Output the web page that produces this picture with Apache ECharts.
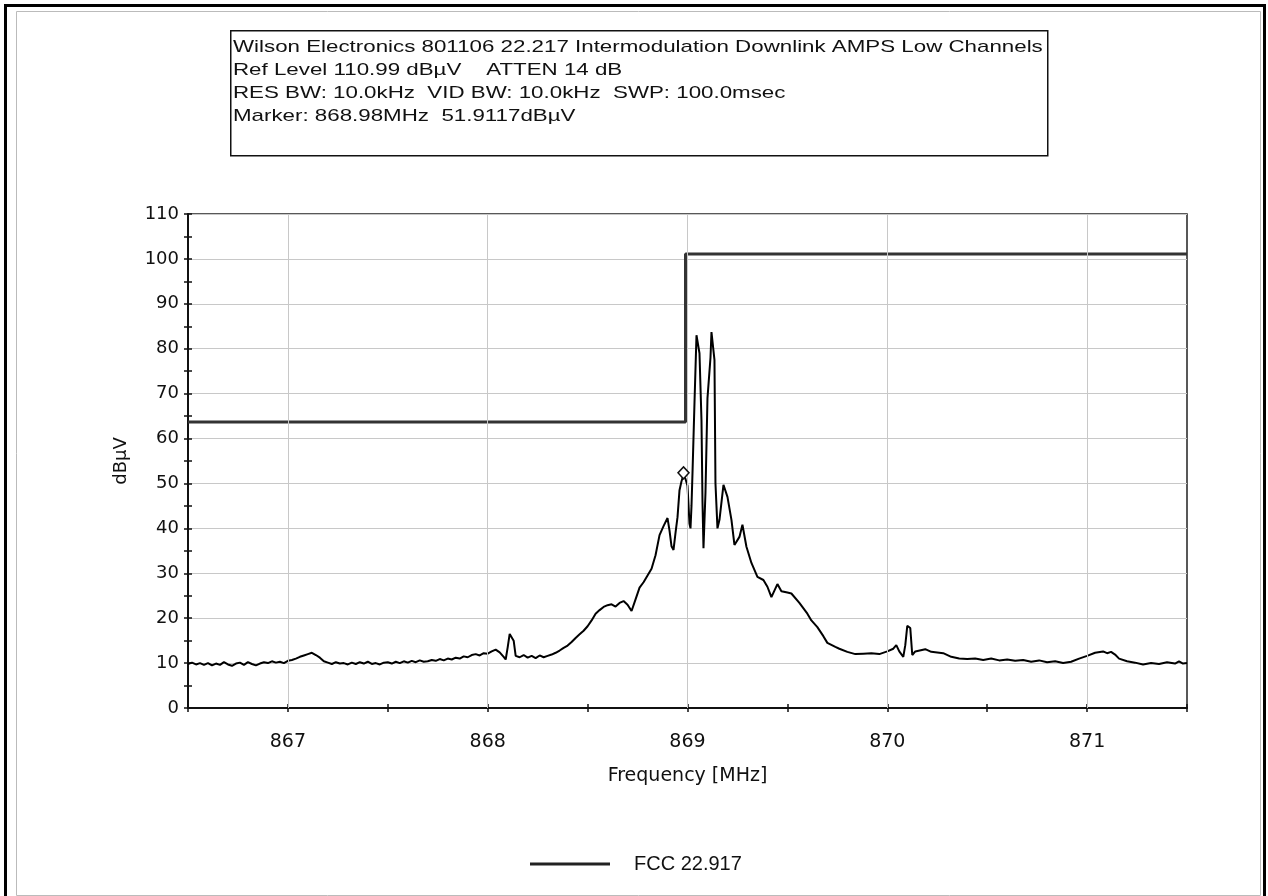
<!DOCTYPE html>
<html>
<head>
<meta charset="utf-8">
<script src="https://cdn.jsdelivr.net/npm/echarts@6/dist/echarts.min.js"></script>
<style>
html,body{margin:0;padding:0;background:#fff;}
#chart{width:1268px;height:896px;}
</style>
</head>
<body>
<div id="chart"></div>
<script>
// ---- Data ----
var infoLines = [
  'Wilson Electronics 801106 22.217 Intermodulation Downlink AMPS Low Channels',
  'Ref Level 110.99 dB\u00B5V    ATTEN 14 dB',
  'RES BW: 10.0kHz  VID BW: 10.0kHz  SWP: 100.0msec',
  'Marker: 868.98MHz  51.9117dB\u00B5V'
];
var xAxisTitle = 'Frequency [MHz]';
var yAxisTitle = 'dB\u00B5V';
var limitName = 'FCC 22.917';
var xMin = 866.5, xMax = 871.5, xStep = 0.5;
var yMin = 0, yMax = 110, yStep = 10;
var xGridTicks = [867, 868, 869, 870, 871];

var limitFreq  = [866.5, 868.99, 868.99, 871.5];
var limitLevel = [63.7, 63.7, 101.1, 101.1];

var markerFreq = 868.98;
var markerLevel = 51.9117;

var traceData = [
 [866.50,9.8],[866.52,10.1],[866.54,9.7],[866.56,10.0],[866.58,9.6],[866.60,10.0],[866.62,9.5],[866.64,9.9],
 [866.66,9.6],[866.68,10.2],[866.70,9.7],[866.72,9.4],[866.74,9.9],[866.76,10.1],[866.78,9.6],[866.80,10.2],
 [866.82,9.8],[866.84,9.5],[866.86,9.9],[866.88,10.2],[866.90,10.0],[866.92,10.4],[866.94,10.1],[866.96,10.3],
 [866.98,10.0],[867.00,10.5],[867.02,10.7],[867.04,11.0],[867.06,11.4],[867.08,11.7],[867.10,12.0],[867.12,12.3],
 [867.14,11.8],[867.16,11.2],[867.18,10.4],[867.20,10.1],[867.22,9.8],[867.24,10.2],[867.26,9.9],[867.28,10.0],
 [867.30,9.7],[867.32,10.1],[867.34,9.8],[867.36,10.2],[867.38,9.9],[867.40,10.3],[867.42,9.8],[867.44,10.0],
 [867.46,9.7],[867.48,10.1],[867.50,10.2],[867.52,9.9],[867.54,10.3],[867.56,10.0],[867.58,10.4],[867.60,10.1],
 [867.62,10.5],[867.64,10.2],[867.66,10.6],[867.68,10.3],[867.70,10.4],[867.72,10.7],[867.74,10.5],[867.76,10.9],
 [867.78,10.6],[867.80,11.0],[867.82,10.8],[867.84,11.2],[867.86,11.0],[867.88,11.5],[867.90,11.3],[867.92,11.8],
 [867.94,12.0],[867.96,11.7],[867.98,12.2],[868.00,12.1],[868.02,12.6],[868.04,13.0],[868.06,12.4],[868.08,11.4],
 [868.09,10.8],[868.10,13.5],[868.11,16.5],[868.12,16.8],[868.13,15.0],[868.14,11.6],[868.16,11.3],[868.18,11.8],
 [868.20,11.2],[868.22,11.6],[868.24,11.1],[868.26,11.7],[868.28,11.3],[868.30,11.6],[868.32,11.9],[868.34,12.3],
 [868.36,12.8],[868.38,13.4],[868.40,13.9],[868.42,14.7],[868.44,15.6],[868.46,16.4],[868.48,17.2],[868.50,18.2],
 [868.52,19.5],[868.54,21.0],[868.56,21.8],[868.58,22.5],[868.60,22.9],[868.62,23.1],[868.64,22.6],[868.66,23.4],
 [868.68,23.8],[868.70,23.0],[868.72,21.6],[868.74,24.2],[868.76,26.8],[868.78,28.0],[868.80,29.5],[868.82,31.0],
 [868.84,34.0],[868.86,38.5],[868.88,40.5],[868.90,42.3],[868.91,39.5],[868.92,36.0],[868.93,35.2],[868.94,39.0],
 [868.95,42.5],[868.96,48.5],[868.97,50.5],[868.98,51.9],[868.99,51.0],[869.00,49.5],[869.01,41.0],[869.015,40.0],
 [869.02,45.0],[869.025,52.3],[869.035,68.0],[869.045,83.0],[869.06,79.0],[869.07,64.0],[869.075,46.0],[869.08,35.6],
 [869.09,48.0],[869.10,69.0],[869.115,78.0],[869.12,83.7],[869.135,77.5],[869.14,50.0],[869.15,40.0],[869.16,41.9],
 [869.18,49.7],[869.20,47.0],[869.22,41.9],[869.235,36.3],[869.26,38.1],[869.275,40.8],[869.295,35.9],[869.32,32.3],
 [869.35,29.2],[869.38,28.5],[869.40,27.0],[869.42,24.7],[869.45,27.6],[869.47,26.0],[869.50,25.7],[869.52,25.5],
 [869.56,23.4],[869.60,21.0],[869.62,19.5],[869.65,18.0],[869.68,16.0],[869.70,14.5],[869.74,13.6],[869.76,13.2],
 [869.80,12.5],[869.84,12.0],[869.88,12.1],[869.92,12.2],[869.96,12.0],[870.00,12.6],[870.03,13.2],[870.045,14.0],
 [870.06,12.6],[870.08,11.4],[870.09,14.0],[870.10,18.3],[870.115,17.8],[870.125,11.8],[870.14,12.6],[870.19,13.1],
 [870.22,12.5],[870.28,12.2],[870.32,11.4],[870.36,11.0],[870.40,10.9],[870.44,11.0],[870.48,10.7],[870.52,11.0],
 [870.56,10.6],[870.60,10.8],[870.64,10.5],[870.68,10.7],[870.72,10.3],[870.76,10.6],[870.80,10.2],[870.84,10.4],
 [870.88,10.0],[870.92,10.3],[870.96,11.0],[871.00,11.6],[871.04,12.3],[871.08,12.6],[871.10,12.2],[871.12,12.5],
 [871.14,11.9],[871.16,11.0],[871.20,10.4],[871.24,10.1],[871.28,9.7],[871.32,10.0],[871.36,9.8],[871.40,10.2],
 [871.44,9.9],[871.46,10.4],[871.48,9.9],[871.50,10.0]
];

// ---- Chart ----
var FONT = 'DejaVu Sans';
var chart = echarts.init(document.getElementById('chart'), null, {renderer: 'canvas'});

var limitData = limitFreq.map(function (f, i) { return [f, limitLevel[i]]; });

var infoText = infoLines.map(function (t, i) {
  return {
    type: 'text', x: 233, y: 47 + i * 23, scaleX: 1.313, z: 10,
    style: { text: t, font: '17px "Liberation Sans"', fill: '#111', textVerticalAlign: 'middle', verticalAlign: 'middle' }
  };
});

var option = {
  backgroundColor: '#fff',
  animation: false,
  grid: { left: 188, top: 214, right: 81, bottom: 188, show: true, borderColor: '#222', borderWidth: 1.5, backgroundColor: 'transparent' },
  legend: {
    data: [{ name: limitName, icon: 'rect' }],
    left: 525, top: 849,
    itemWidth: 80, itemHeight: 3,
    textStyle: { fontFamily: 'Liberation Sans', fontSize: 20, color: '#111', padding: [0, 0, 0, 19] }
  },
  xAxis: [{
    type: 'value', min: xMin, max: xMax, interval: xStep, position: 'bottom',
    name: xAxisTitle, nameLocation: 'middle', nameGap: 59,
    nameTextStyle: { fontFamily: FONT, fontSize: 19, color: '#111' },
    axisLine: { onZero: false, lineStyle: { color: '#111', width: 2 } },
    axisTick: { show: true, length: 4, lineStyle: { color: '#111', width: 1.5 } },
    axisLabel: { margin: 25, fontFamily: FONT, fontSize: 19, color: '#111',
      formatter: function (v) { return Math.abs(v - Math.round(v)) < 1e-6 ? String(Math.round(v)) : ''; } },
    splitLine: { show: false }
  }, {
    type: 'value', min: xMin, max: xMax, interval: xStep, position: 'bottom',
    axisLine: { show: false, onZero: false },
    axisTick: { show: true, inside: true, length: 4, lineStyle: { color: '#111', width: 1.5 } },
    axisLabel: { show: false }, splitLine: { show: false }
  }],
  yAxis: [{
    type: 'value', min: yMin, max: yMax, interval: yStep, position: 'left',
    name: yAxisTitle, nameLocation: 'middle', nameGap: 58, nameRotate: 90,
    nameTextStyle: { fontFamily: FONT, fontSize: 18, color: '#111' },
    axisLine: { show: true, onZero: false, lineStyle: { color: '#111', width: 2 } },
    axisTick: { show: true, length: 4, lineStyle: { color: '#111', width: 1.5 } },
    minorTick: { show: true, splitNumber: 2, length: 4, lineStyle: { color: '#111', width: 1.5 } },
    axisLabel: { margin: 9, fontFamily: FONT, fontSize: 18, color: '#111' },
    splitLine: { show: true, lineStyle: { color: '#c8c8c8', width: 1 } }
  }, {
    type: 'value', min: yMin, max: yMax, interval: yStep, position: 'left', offset: 0,
    axisLine: { show: false, onZero: false },
    axisTick: { show: true, inside: true, length: 4, lineStyle: { color: '#111', width: 1.5 } },
    minorTick: { show: true, splitNumber: 2, length: 4, lineStyle: { color: '#111', width: 1.5 } },
    axisLabel: { show: false }, splitLine: { show: false }
  }],
  series: [{
    name: 'vgrid', type: 'line', data: [], z: 1, silent: true,
    markLine: {
      silent: true, symbol: 'none', label: { show: false },
      lineStyle: { color: '#c8c8c8', width: 1, type: 'solid' },
      data: xGridTicks.map(function (v) { return { xAxis: v }; })
    }
  }, {
    name: limitName, type: 'line', data: limitData, z: 3,
    showSymbol: false, symbol: 'none',
    lineStyle: { color: '#333', width: 3 },
    itemStyle: { color: '#222' }
  }, {
    name: 'Trace', type: 'line', data: traceData, z: 4,
    showSymbol: false, symbol: 'none',
    lineStyle: { color: '#000', width: 2 },
    itemStyle: { color: '#000' },
    markPoint: {
      symbol: 'diamond', symbolSize: [11, 12], symbolOffset: [0, -2],
      label: { show: false },
      itemStyle: { color: '#fff', borderColor: '#111', borderWidth: 1.5 },
      data: [{ coord: [markerFreq, markerLevel] }]
    }
  }],
  graphic: [
    { type: 'rect', left: 3, top: 3, z: 0, shape: { width: 1259, height: 900 }, style: { fill: 'none', stroke: '#000', lineWidth: 3 } },
    { type: 'rect', left: 14, top: 9, z: 0, shape: { width: 1244, height: 884 }, style: { fill: 'none', stroke: '#bbb', lineWidth: 1 } },
    { type: 'rect', left: 230, top: 30, z: 9, shape: { width: 817, height: 125 }, style: { fill: '#fff', stroke: '#111', lineWidth: 1.5 } }
  ].concat(infoText)
};
chart.setOption(option);
</script>
</body>
</html>
